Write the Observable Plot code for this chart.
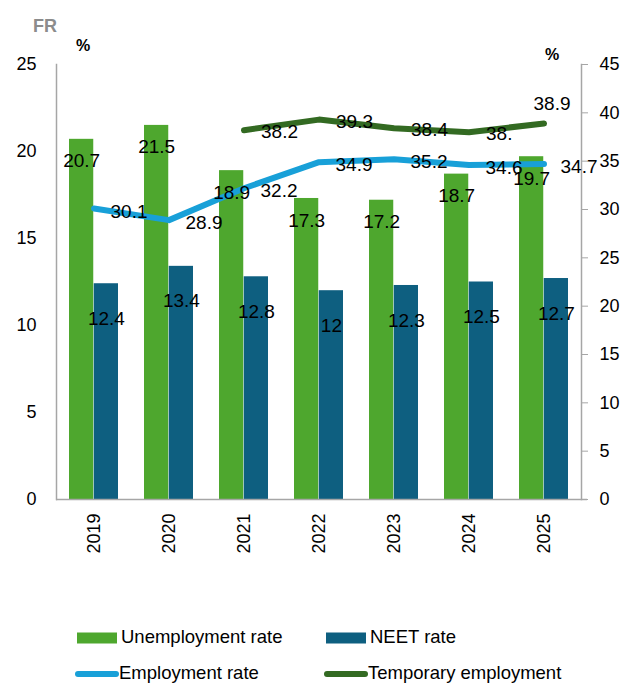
<!DOCTYPE html>
<html>
<head>
<meta charset="utf-8">
<script src="https://cdn.jsdelivr.net/npm/d3@7"></script>
<script src="https://cdn.jsdelivr.net/npm/@observablehq/plot@0.6"></script>
<style>
  html, body { margin: 0; padding: 0; background: #fff; }
  #wrap { position: relative; width: 622px; height: 683px; overflow: hidden; font-family: "Liberation Sans", Arial, sans-serif; }
  #chart { position: absolute; left: 0; top: 0; }
  .abs { position: absolute; white-space: nowrap; line-height: 1; }
  .title { left: 33px; top: 17px; font-size: 18px; font-weight: bold; color: #8c8c8c; }
  .pct { font-size: 16px; font-weight: bold; color: #000; }
  .leg { font-size: 18.5px; color: #000; }
</style>
</head>
<body>
<div id="wrap">
  <div id="chart"></div>
  <div class="abs title">FR</div>
  <div class="abs pct" style="left:76px; top:38px;">%</div>
  <div class="abs pct" style="left:545px; top:47px;">%</div>
  <div id="legend"></div>
</div>
<script>
const years = ["2019", "2020", "2021", "2022", "2023", "2024", "2025"];
const unemploymentRate = [20.7, 21.5, 18.9, 17.3, 17.2, 18.7, 19.7];
const neetRate = [12.4, 13.4, 12.8, 12, 12.3, 12.5, 12.7];
const employmentRate = [30.1, 28.9, 32.2, 34.9, 35.2, 34.6, 34.7];
const temporaryEmployment = [null, null, 38.2, 39.3, 38.4, 38.0, 38.9];
const temporaryLabels = [null, null, "38.2", "39.3", "38.4", "38.", "38.9"];
const leftTicks = [0, 5, 10, 15, 20, 25];
const rightTicks = [0, 5, 10, 15, 20, 25, 30, 35, 40, 45];
const seriesNames = ["Unemployment rate", "NEET rate", "Employment rate", "Temporary employment"];
const colors = {green: "#4ea72e", neet: "#0e5f80", emp: "#18a0d8", temp: "#336a22", axis: "#a6a6a6"};

const leftMax = 25, rightMax = 45;
const toLeft = v => v * leftMax / rightMax;

const bars = years.map((year, i) => ({year, unemp: unemploymentRate[i], neet: neetRate[i]}));
const emp = years.map((year, i) => ({year, v: toLeft(employmentRate[i]), label: String(employmentRate[i])}));
const temp = years.map((year, i) => ({year, v: temporaryEmployment[i] == null ? null : toLeft(temporaryEmployment[i]), label: temporaryLabels[i]}))
  .filter(d => d.v != null);

const width = 622, height = 600;
const marginLeft = 56, marginRight = 41, marginTop = 64, marginBottom = 101;
const paddingInner = 0.34, paddingOuter = 0.17;
const step = (width - marginLeft - marginRight) / (years.length - paddingInner + 2 * paddingOuter);
const bw = step * (1 - paddingInner);
const half = bw / 2;

const plot = Plot.plot({
  width, height, marginLeft, marginRight, marginTop, marginBottom,
  style: {fontFamily: "'Liberation Sans', Arial, sans-serif", fontSize: "18px", color: "#000", background: "transparent"},
  x: {type: "band", domain: years, paddingInner, paddingOuter, label: null},
  y: {domain: [0, leftMax], label: null},
  marks: [
    Plot.barY(bars, {x: "year", y: "unemp", fill: colors.green, insetRight: half}),
    Plot.barY(bars, {x: "year", y: "neet", fill: colors.neet, insetLeft: half}),
    Plot.frame({anchor: "left", stroke: colors.axis, strokeWidth: 1.5}),
    Plot.frame({anchor: "right", stroke: colors.axis, strokeWidth: 1.5}),
    Plot.ruleY([0], {stroke: colors.axis, strokeWidth: 1.5, insetRight: -6}),
    Plot.axisY({anchor: "left", ticks: leftTicks, tickSize: 0, tickPadding: 20, label: null, fontSize: 18, fill: "#000"}),
    Plot.axisY({anchor: "right", ticks: rightTicks.map(toLeft), tickFormat: d => String(Math.round(d * rightMax / leftMax)),
      tickSize: 6, tickPadding: 12, label: null, fontSize: 18, stroke: colors.axis, fill: "#000"}),
    Plot.axisX({anchor: "bottom", tickSize: 0, tickPadding: 14, tickRotate: -90, label: null, fontSize: 18, fill: "#000"}),
    Plot.line(emp, {x: "year", y: "v", stroke: colors.emp, strokeWidth: 6, curve: "linear", strokeLinecap: "round", strokeLinejoin: "round"}),
    Plot.line(temp, {x: "year", y: "v", stroke: colors.temp, strokeWidth: 6, curve: "linear", strokeLinecap: "round", strokeLinejoin: "round"}),
    Plot.text(bars, {x: "year", y: "unemp", text: d => String(d.unemp), dx: -half / 2, dy: 22, fontSize: 19, fill: "#000"}),
    Plot.text(bars, {x: "year", y: "neet", text: d => String(d.neet), dx: half / 2, dy: 35, fontSize: 19, fill: "#000"}),
    Plot.text(emp, {x: "year", y: "v", text: "label", dx: 35, dy: 3, fontSize: 19, fill: "#000"}),
    Plot.text(temp.filter(d => d.year !== "2025"), {x: "year", y: "v", text: "label", dx: 17, dy: 2, textAnchor: "start", fontSize: 19, fill: "#000"}),
    Plot.text(temp.filter(d => d.year === "2025"), {x: "year", y: "v", text: "label", dx: 8, dy: -20, fontSize: 19, fill: "#000"})
  ]
});
document.getElementById("chart").appendChild(plot);

// Legend
const legend = document.getElementById("legend");
const items = [
  {name: seriesNames[0], kind: "rect", color: colors.green, x: 77, y: 638},
  {name: seriesNames[1], kind: "rect", color: colors.neet, x: 326, y: 638},
  {name: seriesNames[2], kind: "line", color: colors.emp, x: 75, y: 674},
  {name: seriesNames[3], kind: "line", color: colors.temp, x: 324, y: 674}
];
for (const it of items) {
  const sw = document.createElementNS("http://www.w3.org/2000/svg", "svg");
  sw.setAttribute("width", 46); sw.setAttribute("height", 14);
  sw.style.position = "absolute";
  sw.style.left = (it.x - 1) + "px";
  sw.style.top = (it.y - 7) + "px";
  if (it.kind === "rect") {
    const r = document.createElementNS("http://www.w3.org/2000/svg", "rect");
    r.setAttribute("x", 1); r.setAttribute("y", 1.5); r.setAttribute("width", 40); r.setAttribute("height", 11);
    r.setAttribute("fill", it.color);
    sw.appendChild(r);
  } else {
    const l = document.createElementNS("http://www.w3.org/2000/svg", "line");
    l.setAttribute("x1", 4); l.setAttribute("x2", 42); l.setAttribute("y1", 7); l.setAttribute("y2", 7);
    l.setAttribute("stroke", it.color); l.setAttribute("stroke-width", 6); l.setAttribute("stroke-linecap", "round");
    sw.appendChild(l);
  }
  legend.appendChild(sw);
  const t = document.createElement("div");
  t.className = "abs leg";
  t.textContent = it.name;
  t.style.left = (it.x + 44) + "px";
  t.style.top = (it.y - 10) + "px";
  legend.appendChild(t);
}
</script>
</body>
</html>
